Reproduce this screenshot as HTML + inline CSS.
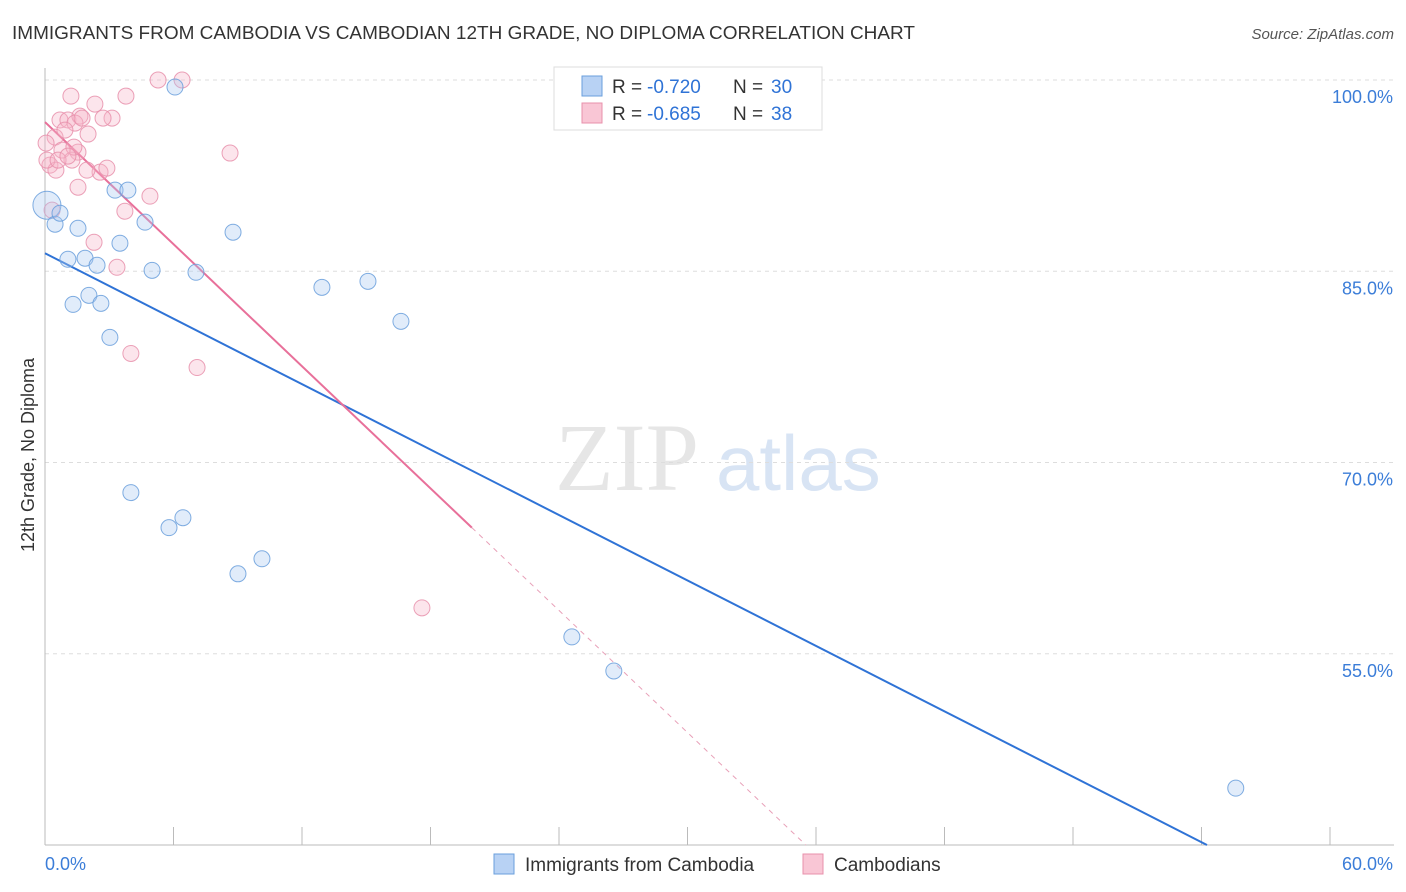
<!DOCTYPE html>
<html><head><meta charset="utf-8">
<style>
body{margin:0;background:#fff;font-family:"Liberation Sans",sans-serif;}
#wrap{position:relative;width:1406px;height:892px;overflow:hidden;}
</style></head><body>
<div id="wrap">
<svg id="chart" width="1406" height="892" xmlns="http://www.w3.org/2000/svg">
<text x="12" y="39" font-size="18" fill="#333" textLength="903" lengthAdjust="spacingAndGlyphs">IMMIGRANTS FROM CAMBODIA VS CAMBODIAN 12TH GRADE, NO DIPLOMA CORRELATION CHART</text>
<text x="1394" y="39" font-size="15" fill="#555" font-style="italic" text-anchor="end">Source: ZipAtlas.com</text>
<g>
<text x="555" y="490" font-size="96" fill="#e6e6e6" font-family="Liberation Serif,serif">ZIP</text>
<text x="716" y="490" font-size="78" fill="#d8e4f4">atlas</text>
</g>
<g id="grid"></g>
<g id="axes"></g>
<g id="lines"></g>
<g id="pts"></g>
<text transform="translate(34,455) rotate(-90)" font-size="18" fill="#333" text-anchor="middle">12th Grade, No Diploma</text>
<g>
<rect x="554" y="67" width="268" height="63" fill="#fff" stroke="#ddd"/>
<rect x="582" y="76" width="20" height="20" fill="#b8d2f4" stroke="#6a9fdc"/>
<rect x="582" y="103" width="20" height="20" fill="#f9c6d5" stroke="#e890ab"/>
<text x="612" y="93" font-size="19" fill="#333">R =</text>
<text x="647" y="93" font-size="19" fill="#2f73d6">-0.720</text>
<text x="733" y="93" font-size="19" fill="#333">N =</text>
<text x="771" y="93" font-size="19" fill="#2f73d6">30</text>
<text x="612" y="120" font-size="19" fill="#333">R =</text>
<text x="647" y="120" font-size="19" fill="#2f73d6">-0.685</text>
<text x="733" y="120" font-size="19" fill="#333">N =</text>
<text x="771" y="120" font-size="19" fill="#2f73d6">38</text>
</g>
<g>
<rect x="494" y="854" width="20" height="20" fill="#b8d2f4" stroke="#6a9fdc"/>
<text x="525" y="871" font-size="19" fill="#333">Immigrants from Cambodia</text>
<rect x="803" y="854" width="20" height="20" fill="#f9c6d5" stroke="#e890ab"/>
<text x="834" y="871" font-size="19" fill="#333">Cambodians</text>
</g>
</svg>
</div>
<script>
const yTicks=[100,85,70,55];
const yTickLabels=["100.0%","85.0%","70.0%","55.0%"];
const xTicks=[0,6,12,18,24,30,36,42,48,54,60];
const blueX=[0.09,0.47,0.70,1.54,1.07,1.87,2.43,1.31,2.05,2.61,3.03,3.27,3.87,3.50,4.67,5.00,6.07,7.05,8.78,12.93,15.08,16.62,4.01,5.79,6.44,9.01,10.13,24.6,26.56,55.6];
const blueY=[90.18,88.69,89.55,88.37,85.94,86.02,85.47,82.40,83.11,82.48,79.81,91.36,91.36,87.20,88.85,85.07,99.45,84.92,88.06,83.74,84.21,81.07,67.64,64.89,65.67,61.27,62.45,56.32,53.65,44.46];
const pinkX=[5.28,6.40,1.21,3.78,2.33,0.70,1.07,1.63,3.13,1.40,0.47,2.01,0.79,1.54,0.23,0.51,1.26,2.57,2.89,1.96,8.64,1.54,4.90,3.73,2.29,3.36,4.01,7.10,17.6,0.09,0.33,0.93,1.35,2.71,0.61,0.05,1.73,1.07];
const pinkY=[100,100,98.74,98.74,98.11,96.86,96.86,97.17,97.01,96.62,95.52,95.76,94.50,94.34,93.32,92.93,93.72,92.77,93.09,92.93,94.27,91.59,90.89,89.71,87.27,85.31,78.55,77.45,58.60,93.72,89.79,96.07,94.74,97.01,93.72,95.05,97.01,94.03];
const blueTrend=[86.41,-0.8554];
const pinkTrend=[96.7,-1.596];
const pinkSolidEnd=19.93;
const NS="http://www.w3.org/2000/svg";
const X0=45,X1=1330,Y0=80,Y1=845;
function sx(v){return X0+(v/60)*(X1-X0);}
function sy(v){return Y0+(100-v)/60*(Y1-Y0);}
function mk(tag,attrs,parent){const e=document.createElementNS(NS,tag);for(const k in attrs)e.setAttribute(k,attrs[k]);document.getElementById(parent).appendChild(e);return e;}
yTicks.forEach((t,i)=>{
 const l=mk('line',{x1:X0,x2:1394,y1:sy(t),y2:sy(t),stroke:'#ddd','stroke-dasharray':'4,4'},'grid');
 
 
 const tx=mk('text',{x:1393,y:sy(t)+23,'font-size':18,fill:'#3b7dd8','text-anchor':'end'},'axes');
 tx.textContent=yTickLabels[i];
 
 
});
const ax=mk('line',{x1:X0,x2:X0,y1:68,y2:Y1,stroke:'#bbb'},'axes');


const bx=mk('line',{x1:X0,x2:1394,y1:Y1,y2:Y1,stroke:'#bbb'},'axes');


xTicks.forEach(t=>{
 const l=mk('line',{x1:sx(t),x2:sx(t),y1:827,y2:Y1,stroke:'#bbb'},'axes');
 
 
});
const xl0=mk('text',{x:45,y:870,'font-size':18,fill:'#3b7dd8'},'axes');xl0.textContent='0.0%';


const xl1=mk('text',{x:1393,y:870,'font-size':18,fill:'#3b7dd8','text-anchor':'end'},'axes');xl1.textContent='60.0%';


function pts(xs,ys,fill,stroke,name){xs.forEach((x,i)=>{
 const r=(name==='blue-point'&&i===0)?14:8;
 const c=mk('circle',{cx:sx(x),cy:sy(ys[i]),r:r,fill:fill,'fill-opacity':0.35,stroke:stroke,'stroke-width':1,'stroke-opacity':0.85},'pts');
 
 
});}
pts(pinkX,pinkY,'#f5b5c8','#e890ab','pink-point');
pts(blueX,blueY,'#a8c8f0','#6a9fdc','blue-point');
const bEnd=(40-blueTrend[0])/blueTrend[1];
const bl=mk('line',{x1:sx(0),y1:sy(blueTrend[0]),x2:sx(bEnd),y2:sy(40),stroke:'#2f73d6','stroke-width':2},'lines');


const pl=mk('line',{x1:sx(0),y1:sy(pinkTrend[0]),x2:sx(pinkSolidEnd),y2:sy(pinkTrend[0]+pinkTrend[1]*pinkSolidEnd),stroke:'#e8709a','stroke-width':2},'lines');


const pEnd=(40-pinkTrend[0])/pinkTrend[1];
const pd=mk('line',{x1:sx(pinkSolidEnd),y1:sy(pinkTrend[0]+pinkTrend[1]*pinkSolidEnd),x2:sx(pEnd),y2:sy(40),stroke:'#e8a0b8','stroke-width':1,'stroke-dasharray':'5,5'},'lines');


</script>
</body></html>
